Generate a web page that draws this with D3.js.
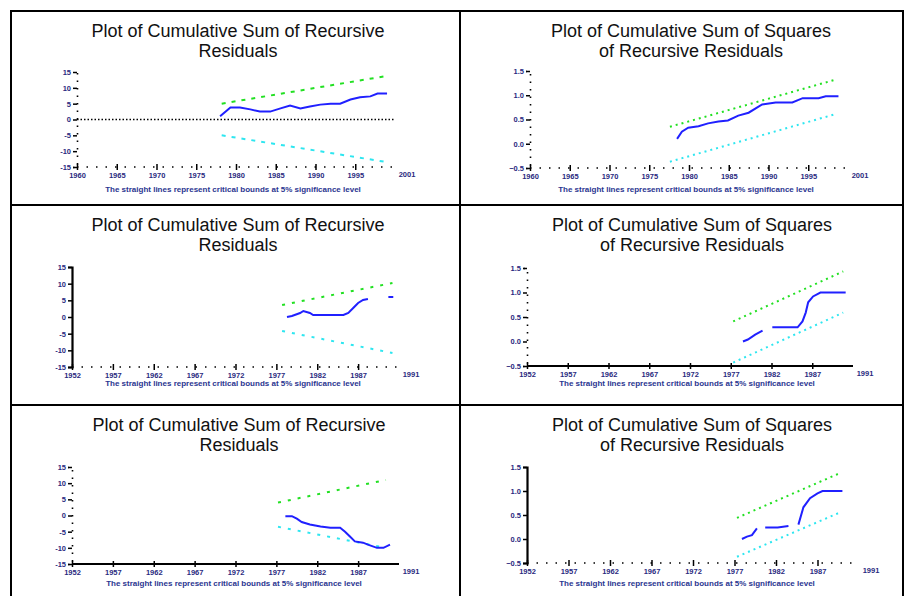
<!DOCTYPE html>
<html>
<head>
<meta charset="utf-8">
<script src="https://cdn.jsdelivr.net/npm/d3@7"></script>
<style>
  body { margin: 0; background: #fff; }
  text { font-family: Arial, "Liberation Sans", sans-serif; }
</style>
</head>
<body>
<svg id="chart" width="905" height="596"></svg>
<script>
// ---- data ----
var cusumTitle = ["Plot of Cumulative Sum of Recursive", "Residuals"];
var cusumsqTitle = ["Plot of Cumulative Sum of Squares", "of Recursive Residuals"];
var footnote = "The straight lines represent critical bounds at 5% significance level";

var cusumTicks = [-15, -10, -5, 0, 5, 10, 15];
var cusumsqTicks = [-0.5, 0, 0.5, 1, 1.5];

var topYears = [1960, 1965, 1970, 1975, 1980, 1985, 1990, 1995];
var topEnd = "2001";
var lowYears = [1952, 1957, 1962, 1967, 1972, 1977, 1982, 1987];
var lowEnd = "1991";

// panel 1: CUSUM
var p1Years = [1978.0, 1979.3, 1980.5, 1981.8, 1983.0, 1984.3, 1985.6, 1986.8, 1988.1, 1989.3, 1990.6, 1991.9, 1993.1, 1994.4, 1995.6, 1996.9, 1997.8, 1999.0];
var p1Cusum = [1.0, 3.8, 3.8, 3.2, 2.5, 2.5, 3.5, 4.4, 3.5, 4.1, 4.7, 5.0, 5.0, 6.3, 7.0, 7.3, 8.2, 8.2];
var p1BoundYears = [1978.2, 1998.6];
var p1Upper = [5.0, 13.6];
var p1Lower = [-5.0, -13.3];

// panel 2: CUSUMSQ
var p2Years = [1978.5, 1979.1, 1979.9, 1981.2, 1982.4, 1983.7, 1984.9, 1986.2, 1987.5, 1989.2, 1990.9, 1993.0, 1994.3, 1996.3, 1997.2, 1998.8];
var p2Cusumsq = [0.10, 0.25, 0.33, 0.36, 0.42, 0.46, 0.48, 0.58, 0.64, 0.81, 0.85, 0.85, 0.94, 0.94, 0.98, 0.98];
var p2BoundYears = [1977.6, 1998.6];
var p2Upper = [0.35, 1.33];
var p2Lower = [-0.37, 0.62];

// panel 3: CUSUM
var p3Years = [1978.3, 1978.9, 1979.9, 1980.3, 1981.1, 1981.5, 1985.2, 1985.8, 1986.4, 1987.0, 1987.6, 1988.2, 1989.5, 1990.7, 1991.3];
var p3Cusum = [0.0, 0.3, 1.2, 1.8, 1.2, 0.6, 0.6, 1.2, 2.7, 4.2, 5.1, 5.4, null, 6.0, 6.0];
var p3BoundYears = [1977.7, 1991.2];
var p3Upper = [3.6, 10.2];
var p3Lower = [-4.2, -10.8];

// panel 4: CUSUMSQ
var p4Years = [1978.5, 1979.1, 1980.0, 1980.9, 1981.5, 1982.1, 1985.2, 1985.8, 1986.2, 1986.5, 1987.1, 1988.0, 1991.1];
var p4Cusumsq = [0.00, 0.04, 0.14, 0.22, null, 0.29, 0.29, 0.41, 0.59, 0.80, 0.92, 1.00, 1.00];
var p4BoundYears = [1977.3, 1990.8];
var p4Upper = [0.41, 1.43];
var p4Lower = [-0.43, 0.59];

// panel 5: CUSUM
var p5Years = [1978.1, 1978.9, 1979.5, 1980.1, 1981.1, 1982.4, 1983.6, 1984.8, 1985.4, 1986.0, 1986.6, 1987.6, 1988.2, 1989.3, 1990.1, 1990.9];
var p5Cusum = [-0.2, -0.2, -1.0, -2.0, -2.8, -3.4, -3.8, -3.8, -5.0, -6.5, -8.0, -8.4, -9.0, -10.0, -10.0, -9.0];
var p5BoundYears = [1977.2, 1990.4];
var p5Upper = [4.0, 11.0];
var p5Lower = [-3.5, -10.0];

// panel 6: CUSUMSQ
var p6Years = [1977.9, 1978.5, 1979.1, 1979.7, 1980.2, 1980.7, 1982.2, 1983.5, 1984.1, 1984.7, 1985.3, 1986.1, 1987.0, 1987.6, 1990.0];
var p6Cusumsq = [0.00, 0.05, 0.08, 0.22, null, 0.24, 0.24, 0.27, null, 0.30, 0.66, 0.85, 0.95, 1.00, 1.00];
var p6BoundYears = [1977.3, 1989.8];
var p6Upper = [0.44, 1.38];
var p6Lower = [-0.37, 0.56];

// ---- layout ----
var svg = d3.select("#chart");

var panels = [
  {title: cusumTitle, cx: 238, top: 11, px: [77, 395], py: [72, 167], x0: 1960, y: cusumTicks, labels: topYears, end: topEnd,
   years: p1Years, vals: p1Cusum, by: p1BoundYears, up: p1Upper, lo: p1Lower, xDot: true, yDot: true, zero: true, dash: "4,6"},
  {title: cusumsqTitle, cx: 691, top: 11, px: [530, 848], py: [71, 168], x0: 1960, y: cusumsqTicks, labels: topYears, end: topEnd,
   years: p2Years, vals: p2Cusumsq, by: p2BoundYears, up: p2Upper, lo: p2Lower, xDot: true, yDot: true, dash: "2,4"},
  {title: cusumTitle, cx: 238, top: 205, px: [72, 399], py: [267, 367], x0: 1952, y: cusumTicks, labels: lowYears, end: lowEnd,
   years: p3Years, vals: p3Cusum, by: p3BoundYears, up: p3Upper, lo: p3Lower, xDot: true, yDot: false, dash: "3,7"},
  {title: cusumsqTitle, cx: 692, top: 205, px: [527, 853], py: [268, 366], x0: 1952, y: cusumsqTicks, labels: lowYears, end: lowEnd,
   years: p4Years, vals: p4Cusumsq, by: p4BoundYears, up: p4Upper, lo: p4Lower, xDot: false, yDot: true, dash: "2,4"},
  {title: cusumTitle, cx: 239, top: 405, px: [72, 399], py: [467, 564], x0: 1952, y: cusumTicks, labels: lowYears, end: lowEnd,
   years: p5Years, vals: p5Cusum, by: p5BoundYears, up: p5Upper, lo: p5Lower, xDot: false, yDot: true, dash: "3,7"},
  {title: cusumsqTitle, cx: 692, top: 405, px: [527, 859], py: [467, 563], x0: 1952, y: cusumsqTicks, labels: lowYears, end: lowEnd,
   years: p6Years, vals: p6Cusumsq, by: p6BoundYears, up: p6Upper, lo: p6Lower, xDot: true, yDot: false, dash: "2,4"}
];

// table frame
var frame = svg.append("g").attr("stroke", "#000").attr("stroke-width", 2);
frame.append("line").attr("x1", 11).attr("x2", 11).attr("y1", 10).attr("y2", 596);
frame.append("line").attr("x1", 903).attr("x2", 903).attr("y1", 10).attr("y2", 596);
frame.append("line").attr("x1", 460).attr("x2", 460).attr("y1", 10).attr("y2", 596);
[11, 205, 405].forEach(function(y) {
  frame.append("line").attr("x1", 10).attr("x2", 904).attr("y1", y).attr("y2", y);
});

panels.forEach(function(p) {
  var g = svg.append("g");
  var ymin = p.y[0], ymax = p.y[p.y.length - 1];

  var x = d3.scaleLinear().domain([p.x0, p.x0 + 40]).range(p.px);
  var y = d3.scaleLinear().domain([ymin, ymax]).range([p.py[1], p.py[0]]);

  // title
  g.selectAll(".title").data(p.title).enter().append("text")
      .attr("x", p.cx)
      .attr("y", function(d, i) { return p.top + 26 + i * 20; })
      .attr("text-anchor", "middle")
      .attr("font-size", "18px")
      .attr("fill", "#111")
      .text(function(d) { return d; });

  // footnote
  g.append("text")
      .attr("x", p.cx - 5)
      .attr("y", p.top + 181)
      .attr("text-anchor", "middle")
      .attr("font-size", "8px")
      .attr("font-weight", "bold")
      .attr("fill", "#2a3590")
      .text(footnote);

  // y axis
  var yAxis = d3.axisLeft(y).tickValues(p.y).tickSize(4).tickPadding(2)
      .tickFormat(function(d) { return p.y === cusumsqTicks ? d3.format(".1f")(d) : d; });
  var ya = g.append("g").attr("transform", "translate(" + p.px[0] + ",0)").call(yAxis);
  ya.select(".domain")
      .attr("stroke-width", p.yDot ? 1.6 : 2.2)
      .attr("stroke-dasharray", p.yDot ? "1.5,6" : null);
  ya.selectAll(".tick line").attr("stroke-width", 1.5);
  ya.selectAll(".tick text").attr("font-size", "7.5px").attr("font-weight", "bold").attr("fill", "#2a2a80");

  // x axis
  var xAxis = d3.axisBottom(x).tickValues(p.labels).tickSize(3).tickPadding(3).tickFormat(d3.format("d"));
  var xa = g.append("g").attr("transform", "translate(0," + p.py[1] + ")").call(xAxis);
  xa.select(".domain")
      .attr("d", "M" + p.px[0] + ",0H" + p.px[1])
      .attr("stroke-width", p.xDot ? 1.6 : 2.2)
      .attr("stroke-dasharray", p.xDot ? "1.5,8" : null);
  xa.selectAll(".tick line").attr("stroke-width", 1.5).attr("y1", -3);
  xa.selectAll(".tick text").attr("font-size", "7.5px").attr("font-weight", "bold").attr("fill", "#2a2a80");
  xa.append("text")
      .attr("x", x(p.x0 + 40) + 12)
      .attr("y", 10)
      .attr("text-anchor", "middle")
      .attr("font-size", "7.5px")
      .attr("font-weight", "bold")
      .attr("fill", "#2a2a80")
      .text(p.end);

  // zero line
  if (p.zero) {
    g.append("line")
        .attr("x1", p.px[0]).attr("x2", p.px[1])
        .attr("y1", y(0)).attr("y2", y(0))
        .attr("stroke", "#000").attr("stroke-width", 1.6)
        .attr("stroke-dasharray", "1.5,2");
  }

  // critical bounds
  var bound = d3.line()
      .x(function(d) { return x(d[0]); })
      .y(function(d) { return y(d[1]); });
  g.append("path")
      .attr("d", bound(d3.zip(p.by, p.up)))
      .attr("fill", "none").attr("stroke", "#22e022").attr("stroke-width", 2)
      .attr("stroke-dasharray", p.dash);
  g.append("path")
      .attr("d", bound(d3.zip(p.by, p.lo)))
      .attr("fill", "none").attr("stroke", "#2ee6f0").attr("stroke-width", 2)
      .attr("stroke-dasharray", p.dash);

  // recursive residual statistic
  var line = d3.line()
      .defined(function(d) { return d[1] != null; })
      .x(function(d) { return x(d[0]); })
      .y(function(d) { return y(d[1]); });
  g.append("path")
      .attr("d", line(d3.zip(p.years, p.vals)))
      .attr("fill", "none").attr("stroke", "#2020ff").attr("stroke-width", 2);
});
</script>
</body>
</html>
